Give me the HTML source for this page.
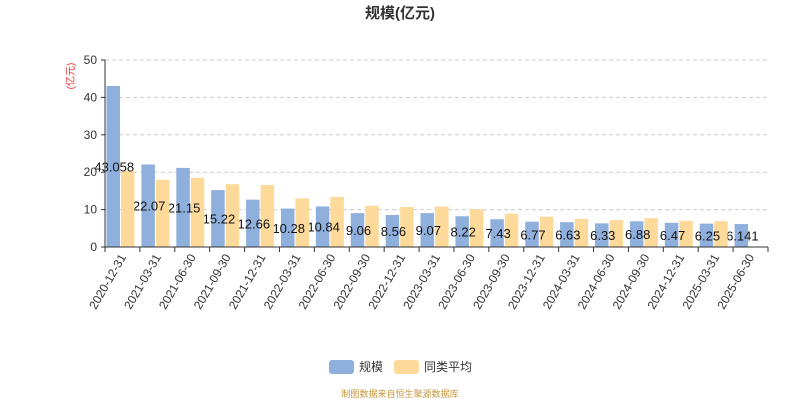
<!DOCTYPE html>
<html><head><meta charset="utf-8"><style>
body{margin:0;background:#fff;font-family:"Liberation Sans","Noto Sans CJK SC",sans-serif}
</style></head><body>
<svg id="c" width="800" height="400" style="display:block">
<text x="400" y="18" text-anchor="middle" font-size="15" font-weight="bold" fill="#333">规模(亿元)</text>
<text transform="translate(74,76) rotate(-90)" text-anchor="middle" font-size="10" fill="#e33">(亿元)</text>
<g id="grid"></g><g id="blue"></g><g id="ov"></g><g id="axis"></g>
<g>
<rect x="329" y="360" width="25" height="14" rx="3" fill="#8fb0dd"/>
<text x="359" y="371" font-size="12" fill="#333">规模</text>
<rect x="394" y="360" width="25" height="14" rx="3" fill="#fdd99a"/>
<text x="424" y="371" font-size="12" fill="#333">同类平均</text>
</g>
<text x="400" y="397" text-anchor="middle" font-size="9" fill="#c8963c">制图数据来自恒生聚源数据库</text>
</svg>
<script>
const categories=["2020-12-31","2021-03-31","2021-06-30","2021-09-30","2021-12-31","2022-03-31","2022-06-30","2022-09-30","2022-12-31","2023-03-31","2023-06-30","2023-09-30","2023-12-31","2024-03-31","2024-06-30","2024-09-30","2024-12-31","2025-03-31","2025-06-30"];
const scaleValues=[43.058,22.07,21.15,15.22,12.66,10.28,10.84,9.06,8.56,9.07,8.22,7.43,6.77,6.63,6.33,6.88,6.47,6.25,6.141];
const scaleLabels=["43.058","22.07","21.15","15.22","12.66","10.28","10.84","9.06","8.56","9.07","8.22","7.43","6.77","6.63","6.33","6.88","6.47","6.25","6.141"];
const avgValues=[20.3,18.0,18.5,16.8,16.6,13.0,13.4,11.0,10.7,10.8,10.1,8.9,8.1,7.5,7.2,7.7,7.0,6.9,null];
const yTicks=[0,10,20,30,40,50];
const NS="http://www.w3.org/2000/svg";
const x0=105,x1=768,y0=247,y1=60,yMax=50;
const cw=(x1-x0)/categories.length;
const yS=v=>y0-(v/yMax)*(y0-y1);
const xS=i=>x0+i*cw;
function mk(t,a,p){const e=document.createElementNS(NS,t);for(const k in a)e.setAttribute(k,a[k]);p.appendChild(e);return e;}
const grid=document.getElementById('grid'),axis=document.getElementById('axis'),ov=document.getElementById('ov');
yTicks.forEach(t=>{
 if(t>0){const l=mk('line',{x1:x0,x2:x1,y1:yS(t),y2:yS(t),stroke:'#ccc','stroke-dasharray':'4,3'},grid);
 }
 const tx=mk('text',{x:x0-8,y:yS(t)+4,'text-anchor':'end','font-size':12,fill:'#333'},axis);tx.textContent=t;
 
 const tk=mk('line',{x1:x0-4,x2:x0,y1:yS(t),y2:yS(t),stroke:'#333'},axis);
 
});
const ya=mk('line',{x1:x0,x2:x0,y1:y1,y2:y0,stroke:'#333'},axis);

const xa=mk('line',{x1:x0,x2:x1,y1:y0,y2:y0,stroke:'#333'},axis);

const bw=13.5;
categories.forEach((c,i)=>{
 const bx=xS(i)+1.5;
 const b=mk('rect',{x:bx,y:yS(scaleValues[i]),width:bw,height:y0-yS(scaleValues[i]),fill:'#8fb0dd'},document.getElementById('blue'));
 
 const tk=mk('line',{x1:xS(i),x2:xS(i),y1:y0,y2:y0+5,stroke:'#333'},axis);
 
 const cx=xS(i)+cw/2;
 const tl=mk('text',{x:cx+4,y:y0+10,'text-anchor':'end','font-size':12,fill:'#333',transform:`rotate(-60 ${cx+4} ${y0+10})`},axis);
 tl.textContent=c;
 
});
for(let i=categories.length-1;i>=0;i--){
 const bx=xS(i)+1.5;
 if(avgValues[i]!=null){
  const y=mk('rect',{x:bx+bw+1,y:yS(avgValues[i]),width:bw,height:y0-yS(avgValues[i]),fill:'#fdd99a'},ov);
  
 }
 const lb=mk('text',{x:bx+bw/2+1,y:yS(scaleValues[i]/2)+5,'text-anchor':'middle','font-size':13,fill:'#111'},ov);
 lb.textContent=scaleLabels[i];
 
}
const et=mk('line',{x1:x1,x2:x1,y1:y0,y2:y0+5,stroke:'#333'},axis);

</script>
</body></html>
